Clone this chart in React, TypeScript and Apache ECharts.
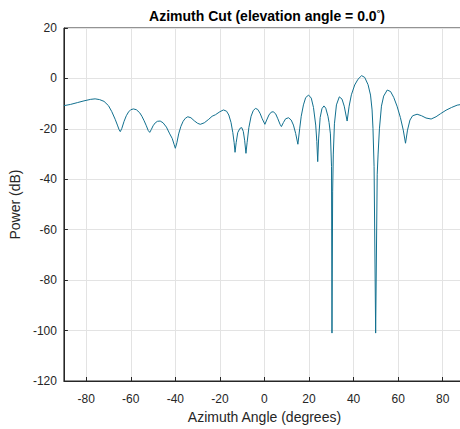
import React, { useEffect, useRef } from "react";
import * as echarts from "echarts";

const titleText = "Azimuth Cut (elevation angle = 0.0";
const xAxisName = "Azimuth Angle (degrees)";
const yAxisName = "Power (dB)";

const angles = [
  -90, -87, -84, -81, -78, -76, -74, -72, -70, -68.5, -67, -66, -65.2, -64.7, -64, -63, -62, -61, -60, -58.8,
  -57.5, -56, -55, -54, -53, -52.2, -51.5, -50.8, -50, -49, -48, -46.8, -45.5, -44, -42.5, -41.4, -40.5, -40,
  -39.3, -38.5, -37.5, -36.5, -35.5, -34.4, -33, -31.5, -30, -28.8, -27, -25, -23.5, -22, -20, -18.4, -17, -16,
  -15, -14.2, -13.6, -13.2, -12.7, -12, -11, -10.2, -9.5, -8.9, -8.3, -7.8, -7, -6, -5, -4, -3, -2, -1, 0.2, 1,
  2, 3, 3.9, 5, 6, 7, 7.6, 8.5, 9.5, 10.8, 12, 13, 14, 15, 15.8, 16.5, 17.5, 18.5, 19.8, 21, 22, 23, 23.5, 23.9,
  24.3, 25, 25.8, 26.7, 27.5, 28.5, 29, 29.6, 30.1, 30.3, 30.6, 30.9, 31.4, 32.3, 33.6, 34.8, 35.8, 37.1, 38, 39,
  40.5, 42, 43.6, 45, 46.5, 47.6, 48.3, 48.7, 49.2, 49.9, 50.6, 51, 51.6, 52.5, 53.5, 55.1, 56.6, 58, 59.5, 61,
  62.3, 63.3, 64.2, 65.3, 66.5, 68.5, 70.5, 72.5, 74.8, 77, 79, 81.5, 84, 86.5, 88.5, 90,
];

const powerDb = [
  -10.8, -10.3, -9.6, -8.9, -8.3, -8.1, -8.4, -9.1, -10.8, -13.2, -16.2, -18.5, -20.4, -21.1, -19.8, -17.0, -14.8, -13.3, -12.4, -12.1,
  -12.4, -13.6, -15.0, -16.8, -18.8, -20.6, -21.4, -20.3, -18.8, -17.6, -17.0, -16.9, -17.6, -19.3, -22.0, -23.8, -26.3, -27.7,
  -25.5, -22.0, -19.0, -17.0, -15.8, -15.2, -15.6, -16.8, -17.8, -18.2, -17.6, -16.2, -15.0, -14.4, -13.2, -12.5, -13.0, -14.5,
  -17.5, -21.5, -25.5, -29.3, -25.5, -21.5, -19.8, -19.5, -21.0, -24.5, -29.7, -25.5, -19.5, -15.0, -12.7, -11.9, -12.3, -13.8, -16.0, -18.2, -16.5,
  -14.5, -13.4, -13.2, -14.0, -16.0, -18.2, -19.1, -17.5, -16.0, -15.6, -16.5, -18.5, -21.8, -26.1, -20.0, -15.0, -10.5, -7.6, -6.6, -7.8, -11.5, -18.5, -25.0, -33.0,
  -24.0, -15.5, -12.0, -10.9, -11.8, -15.0, -17.5, -22.0, -35.0, -101.0, -45.0, -30.0, -18.0, -10.5, -7.3, -8.2, -11.0, -16.9, -11.0, -6.5,
  -2.6, -0.3, 1.1, 0.4, -2.5, -6.6, -12.5, -19.8, -35.0, -101.0, -38.0, -30.0, -20.0, -11.0, -7.0, -4.6, -5.2, -7.5, -11.0, -15.5,
  -20.5, -25.7, -20.5, -16.5, -14.8, -14.2, -14.8, -15.7, -16.1, -15.2, -14.0, -12.6, -11.5, -10.6, -10.3, -10.1,
];

const yTicks = { min: -120, max: 20, interval: 20 };
const xRange = { min: -90, max: 90 };

export default function App() {
  const ref = useRef<HTMLDivElement>(null);
  useEffect(() => {
    if (!ref.current) return;
    const chart = echarts.init(ref.current, undefined, { renderer: "svg" });
    const font = "Arial, 'Liberation Sans', Helvetica, sans-serif";
    const axisColor = "#262626";
    const gridColor = "#e3e3e3";
    chart.setOption({
      animation: false,
      backgroundColor: "#ffffff",
      textStyle: { fontFamily: font },
      title: {
        text: "{a|" + titleText + "}{s|°}{a|)}",
        left: 262,
        top: 3,
        textAlign: "center",
        textStyle: {
          rich: {
            a: { fontSize: 14, fontWeight: "bold", color: "#000", fontFamily: font },
            s: { fontSize: 9, fontWeight: "bold", color: "#000", fontFamily: font, verticalAlign: "top", padding: [0, 0, 6, 0] },
          },
        },
      },
      grid: {
        left: 61,
        top: 28,
        right: 1,
        bottom: 48,
        show: true,
        borderColor: axisColor,
        borderWidth: 1,
        backgroundColor: "#ffffff",
      },
      xAxis: {
        type: "value",
        min: xRange.min,
        max: xRange.max,
        splitNumber: 9,
        name: xAxisName,
        nameLocation: "middle",
        nameGap: 29,
        nameTextStyle: { fontSize: 14, color: axisColor, fontFamily: font },
        axisLine: { show: true, onZero: false, lineStyle: { color: axisColor, width: 1 } },
        axisTick: { show: true, inside: true, length: 4, lineStyle: { color: axisColor } },
        axisLabel: {
          fontSize: 12,
          color: axisColor,
          margin: 12,
          showMinLabel: false,
          showMaxLabel: false,
          fontFamily: font,
        },
        splitLine: { show: true, lineStyle: { color: gridColor, width: 1 } },
      },
      yAxis: {
        type: "value",
        min: yTicks.min,
        max: yTicks.max,
        interval: yTicks.interval,
        name: yAxisName,
        nameLocation: "middle",
        nameGap: 36,
        nameTextStyle: { fontSize: 14, color: axisColor, fontFamily: font },
        axisLine: { show: true, onZero: false, lineStyle: { color: axisColor, width: 1 } },
        axisTick: { show: true, inside: true, length: 4, lineStyle: { color: axisColor } },
        axisLabel: { fontSize: 12, color: axisColor, margin: 7, fontFamily: font },
        splitLine: { show: true, lineStyle: { color: gridColor, width: 1 } },
      },
      series: [
        {
          type: "line",
          data: angles.map((a, i) => [a, powerDb[i]]),
          showSymbol: false,
          symbol: "none",
          lineStyle: { color: "#12708f", width: 1 },
          itemStyle: { color: "#12708f" },
          clip: true,
        },
      ],
    });
    return () => chart.dispose();
  }, []);
  return (
    <div style={{ position: "absolute", left: 0, top: 0, width: 460, height: 429, overflow: "hidden" }}>
      <div ref={ref} style={{ width: 466, height: 429 }} />
    </div>
  );
}
